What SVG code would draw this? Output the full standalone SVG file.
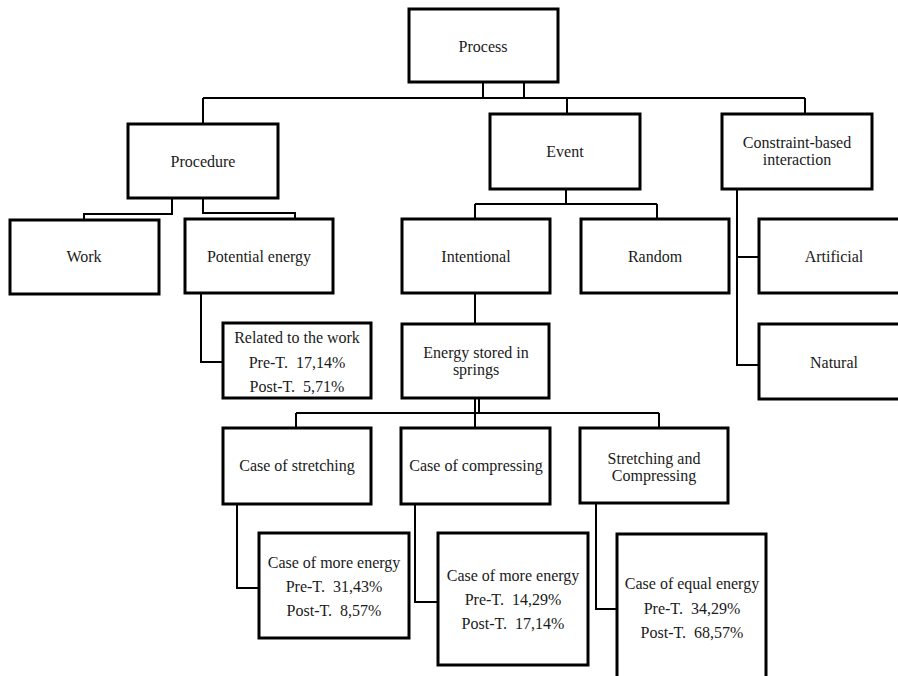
<svg xmlns="http://www.w3.org/2000/svg" width="898" height="676" viewBox="0 0 898 676">
<style>
.box{fill:#fff;stroke:#000;stroke-width:3}
.ln{fill:none;stroke:#000;stroke-width:2}
text{font-size:16px;fill:#1a1a1a;text-anchor:middle;white-space:pre}
</style>
<rect width="898" height="676" fill="#fff"/>
<g id="connectors">
<path class="ln" d="M483 82V98M524 82V98M203 98H805M203 98V124M567 98V114M805 98V114"/>
<path class="ln" d="M172 198V214H84V220M203 198V213H295V219"/>
<path class="ln" d="M566 189V204M475 204H657M475 204V219M657 204V219"/>
<path class="ln" d="M737 189V365H759M737 257H759"/>
<path class="ln" d="M201 293V362H223"/>
<path class="ln" d="M475 293V324"/>
<path class="ln" d="M475 398V413M479 398V413M296 413H659M296 413V428M475 413V428M659 413V428"/>
<path class="ln" d="M237 504V588H259M415 504V602H438M596 503V609H617"/>
</g>
<g font-family="Liberation Serif, Tinos, Times New Roman, DejaVu Serif, Noto Serif, serif">
<g id="process"><rect class="box" x="409" y="9" width="149" height="73"/><text x="483" y="52">Process</text></g>
<g id="procedure"><rect class="box" x="128" y="124" width="150" height="74"/><text x="203" y="167">Procedure</text></g>
<g id="event"><rect class="box" x="490" y="114" width="150" height="75"/><text x="565" y="157">Event</text></g>
<g id="constraint"><rect class="box" x="722" y="114" width="150" height="75"/><text x="797" y="148">Constraint-based</text><text x="797" y="165">interaction</text></g>
<g id="work"><rect class="box" x="10" y="220" width="149" height="74"/><text x="84" y="262">Work</text></g>
<g id="potential"><rect class="box" x="185" y="219" width="148" height="74"/><text x="259" y="262">Potential energy</text></g>
<g id="intentional"><rect class="box" x="402" y="219" width="148" height="74"/><text x="476" y="262">Intentional</text></g>
<g id="random"><rect class="box" x="581" y="219" width="148" height="74"/><text x="655" y="262">Random</text></g>
<g id="artificial"><rect class="box" x="759" y="219" width="150" height="74"/><text x="834" y="262">Artificial</text></g>
<g id="natural"><rect class="box" x="759" y="324" width="150" height="75"/><text x="834" y="368">Natural</text></g>
<g id="related"><rect class="box" x="223" y="323" width="148" height="75"/><text x="297" y="343">Related to the work</text><text x="297" y="368">Pre-T.  17,14%</text><text x="297" y="392">Post-T.  5,71%</text></g>
<g id="energy"><rect class="box" x="402" y="324" width="147" height="74"/><text x="476" y="358">Energy stored in</text><text x="476" y="375">springs</text></g>
<g id="stretching"><rect class="box" x="223" y="428" width="148" height="76"/><text x="297" y="471">Case of stretching</text></g>
<g id="compressing"><rect class="box" x="401" y="428" width="149" height="76"/><text x="476" y="471">Case of compressing</text></g>
<g id="stretchcomp"><rect class="box" x="580" y="428" width="148" height="75"/><text x="654" y="464">Stretching and</text><text x="654" y="481">Compressing</text></g>
<g id="more1"><rect class="box" x="259" y="533" width="150" height="105"/><text x="334" y="568">Case of more energy</text><text x="334" y="592">Pre-T.  31,43%</text><text x="334" y="616">Post-T.  8,57%</text></g>
<g id="more2"><rect class="box" x="438" y="533" width="150" height="132"/><text x="513" y="581">Case of more energy</text><text x="513" y="605">Pre-T.  14,29%</text><text x="513" y="629">Post-T.  17,14%</text></g>
<g id="equal"><rect class="box" x="617" y="534" width="149" height="150"/><text x="692" y="589">Case of equal energy</text><text x="692" y="614">Pre-T.  34,29%</text><text x="692" y="638">Post-T.  68,57%</text></g>
</g>
</svg>
